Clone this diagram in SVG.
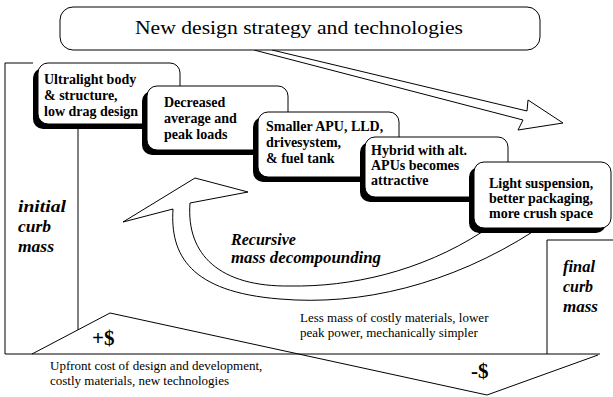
<svg xmlns="http://www.w3.org/2000/svg" width="613" height="397" viewBox="0 0 613 397">
<style>
.ln{fill:none;stroke:#000;stroke-width:1}
.box{fill:#fff;stroke:#000;stroke-width:1}
.sh{fill:#000}
.arr{fill:#fff;stroke:#000;stroke-width:1;stroke-linejoin:miter}
.lbl{font-family:"Liberation Serif",serif;font-weight:bold;font-size:14px;fill:#000}
.it{font-family:"Liberation Serif",serif;font-weight:bold;font-style:italic;font-size:16px;fill:#000}
.pl{font-family:"Liberation Serif",serif;font-size:13px;fill:#000}
.big{font-family:"Liberation Serif",serif;font-weight:bold;font-size:21px;fill:#000}
</style>
<rect width="613" height="397" fill="#fff"/>
<g id="frame">
<polyline class="ln" points="33,63 5,63 5,354 600,354"/>
<line class="ln" x1="78" y1="126" x2="78" y2="330"/>
<polyline class="ln" points="547,354 547,240 613,240"/>
<polyline class="ln" points="32,354 110,313 487,395 598,355"/>
</g>
<g id="connectors">
<path class="arr" d="M190,203 L248,192 L195,178 L123,222 L173,209 C170,255 190,292 280,299 C360,306 450,285 534,231 L482,232 C420,272 350,287 290,286 C220,287 186,255 190,203 Z"/>
<path class="arr" d="M254,50 L523,120 L518,130 L563,123 L528,100 L527,111 L272,50"/>
</g>
<g id="title">
<rect class="box" x="60" y="7" width="480" height="43" rx="13"/>
<text class="pl" x="299" y="34" text-anchor="middle" style="font-size:18px" textLength="328" lengthAdjust="spacingAndGlyphs">New design strategy and technologies</text>
</g>
<g id="n1">
<rect class="sh" x="33" y="68" width="142" height="61" rx="10"/>
<rect class="box" x="38" y="63" width="142" height="61" rx="10"/>
<text class="lbl" x="44" y="84">Ultralight body</text>
<text class="lbl" x="44" y="100">&amp; structure,</text>
<text class="lbl" x="44" y="116">low drag design</text>
</g>
<g id="n2">
<rect class="sh" x="142" y="91" width="141" height="64" rx="10"/>
<rect class="box" x="147" y="86" width="141" height="64" rx="10"/>
<text class="lbl" x="164" y="107">Decreased</text>
<text class="lbl" x="164" y="123">average and</text>
<text class="lbl" x="164" y="139">peak loads</text>
</g>
<g id="n3">
<rect class="sh" x="253" y="117" width="141" height="65" rx="10"/>
<rect class="box" x="258" y="112" width="141" height="65" rx="10"/>
<text class="lbl" x="266" y="131">Smaller APU, LLD,</text>
<text class="lbl" x="266" y="147">drivesystem,</text>
<text class="lbl" x="266" y="163">&amp; fuel tank</text>
</g>
<g id="n4">
<rect class="sh" x="360" y="142" width="143" height="60" rx="10"/>
<rect class="box" x="365" y="137" width="143" height="60" rx="10"/>
<text class="lbl" x="371" y="155">Hybrid  with alt.</text>
<text class="lbl" x="371" y="170">APUs becomes</text>
<text class="lbl" x="371" y="185">attractive</text>
</g>
<g id="n5">
<rect class="sh" x="469" y="167" width="137" height="66" rx="10"/>
<rect class="box" x="474" y="162" width="137" height="66" rx="10"/>
<text class="lbl" x="489" y="188">Light suspension,</text>
<text class="lbl" x="489" y="203">better packaging,</text>
<text class="lbl" x="489" y="218">more crush space</text>
</g>
<g id="labels">
<text class="it" x="18" y="212" textLength="48" lengthAdjust="spacingAndGlyphs">initial</text>
<text class="it" x="18" y="232" textLength="33" lengthAdjust="spacingAndGlyphs">curb</text>
<text class="it" x="18" y="252" textLength="36" lengthAdjust="spacingAndGlyphs">mass</text>
<text class="it" x="563" y="272" textLength="32" lengthAdjust="spacingAndGlyphs">final</text>
<text class="it" x="563" y="292" textLength="30" lengthAdjust="spacingAndGlyphs">curb</text>
<text class="it" x="563" y="312" textLength="35" lengthAdjust="spacingAndGlyphs">mass</text>
<text class="it" x="231" y="245">Recursive</text>
<text class="it" x="231" y="263" textLength="150" lengthAdjust="spacingAndGlyphs">mass decompounding</text>
<text class="big" x="92" y="345">+$</text>
<text class="big" x="471" y="378">-$</text>
<text class="pl" x="300" y="322">Less mass of costly materials, lower</text>
<text class="pl" x="300" y="337">peak power, mechanically simpler</text>
<text class="pl" x="50" y="370">Upfront cost of design and development,</text>
<text class="pl" x="50" y="385">costly materials, new technologies</text>
</g>
</svg>
